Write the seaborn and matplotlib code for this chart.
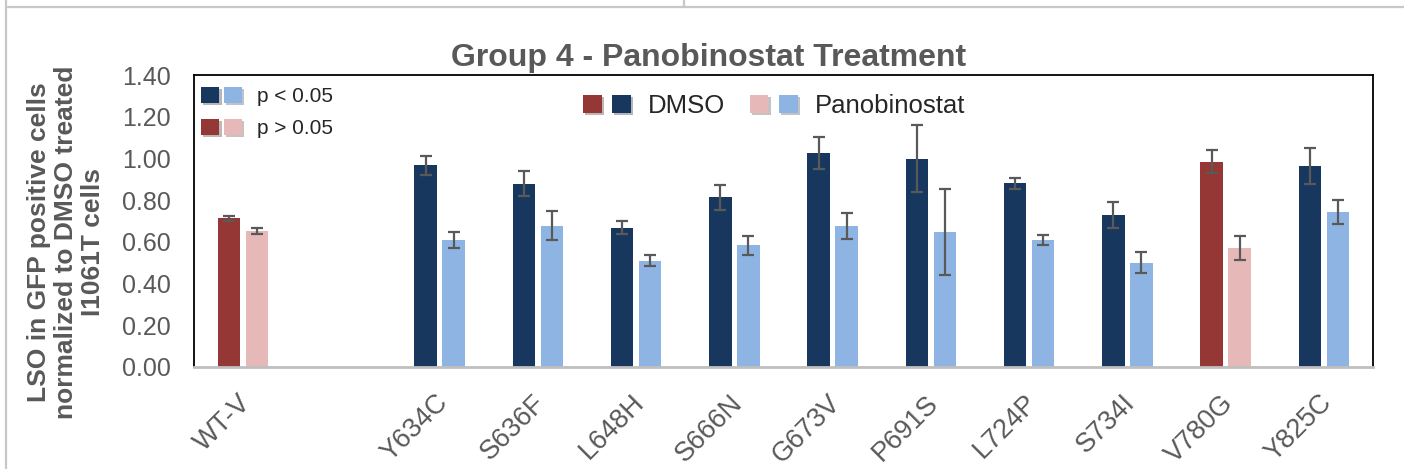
import numpy as np
import pandas as pd
import matplotlib
matplotlib.use("Agg")
import matplotlib.pyplot as plt
import matplotlib.patheffects as pe
import matplotlib.transforms as mtransforms
from matplotlib.patches import Patch
from matplotlib.lines import Line2D
from matplotlib.legend_handler import HandlerTuple
from matplotlib.ticker import FormatStrFormatter
import seaborn as sns

# ---- data -------------------------------------------------------------
categories = ["WT-V", "Y634C", "S636F", "L648H", "S666N", "G673V",
              "P691S", "L724P", "S734I", "V780G", "Y825C"]
# an empty slot separates the wild-type control from the mutants
axis_order = ["WT-V", "", "Y634C", "S636F", "L648H", "S666N", "G673V",
              "P691S", "L724P", "S734I", "V780G", "Y825C"]
treatments = ["DMSO", "Panobinostat"]

dmso_mean = [0.713, 0.967, 0.879, 0.668, 0.814, 1.027, 0.998, 0.880, 0.728, 0.985, 0.964]
dmso_err = [0.012, 0.047, 0.060, 0.030, 0.061, 0.077, 0.161, 0.028, 0.061, 0.055, 0.085]
pano_mean = [0.652, 0.608, 0.677, 0.509, 0.583, 0.675, 0.647, 0.608, 0.501, 0.570, 0.742]
pano_err = [0.015, 0.039, 0.069, 0.026, 0.044, 0.062, 0.205, 0.025, 0.048, 0.056, 0.057]
significant = [False, True, True, True, True, True, True, True, True, False, True]

y_ticks = [0.0, 0.2, 0.4, 0.6, 0.8, 1.0, 1.2, 1.4]

# ---- colours ----------------------------------------------------------
NAVY = "#17375E"
LIGHT_BLUE = "#8EB4E3"
DARK_RED = "#953735"
PINK = "#E6B9B8"
TEXT_GREY = "#595959"

sns.set_style("white")
plt.rcParams["font.family"] = ["Liberation Sans", "DejaVu Sans"]

df = pd.DataFrame({
    "mutant": categories * 2,
    "treatment": [treatments[0]] * len(categories) + [treatments[1]] * len(categories),
    "lso": dmso_mean + pano_mean,
})
err_lookup = {
    treatments[0]: dict(zip(categories, dmso_err)),
    treatments[1]: dict(zip(categories, pano_err)),
}
sig_lookup = dict(zip(categories, significant))
shade = {
    (treatments[0], True): NAVY, (treatments[1], True): LIGHT_BLUE,
    (treatments[0], False): DARK_RED, (treatments[1], False): PINK,
}

W, H = 1404, 469
fig = plt.figure(figsize=(W / 100, H / 100), dpi=100)
ax = fig.add_axes([194 / W, 1 - 367 / H, (1373 - 194) / W, (367 - 75) / H])

sns.barplot(data=df, x="mutant", y="lso", hue="treatment",
            order=axis_order, hue_order=treatments,
            palette=[NAVY, LIGHT_BLUE], saturation=1,
            width=0.57, gap=0.2, errorbar=None, legend=False,
            linewidth=0, ax=ax)

# colour each bar by significance and add its error bar
for container, treatment in zip(ax.containers, treatments):
    for bar in container:
        cx = bar.get_x() + bar.get_width() / 2
        name = axis_order[int(round(cx))]
        bar.set_facecolor(shade[(treatment, sig_lookup[name])])
        ax.errorbar(cx, bar.get_height(), yerr=err_lookup[treatment][name],
                    fmt="none", ecolor=TEXT_GREY, elinewidth=1.6,
                    capsize=4.5, capthick=1.6, zorder=5)

# ---- axes styling ------------------------------------------------------
ax.set_xlim(-0.5, len(axis_order) - 0.5)
ax.set_ylim(0, 1.4)
ax.set_yticks(y_ticks)
ax.yaxis.set_major_formatter(FormatStrFormatter("%.2f"))
ax.tick_params(axis="y", length=0, pad=17, labelsize=18, labelcolor=TEXT_GREY)
ax.tick_params(axis="x", length=0, pad=23, labelsize=19.5, labelcolor=TEXT_GREY)
label_shift = mtransforms.ScaledTranslation(0.04, 0, fig.dpi_scale_trans)
for lbl in ax.get_xticklabels():
    lbl.set_rotation(45)
    lbl.set_ha("right")
    lbl.set_va("center")
    lbl.set_rotation_mode("anchor")
    lbl.set_transform(lbl.get_transform() + label_shift)
ax.set_xlabel("")

for side in ("left", "top", "right"):
    ax.spines[side].set_color("#000000")
    ax.spines[side].set_linewidth(1.3)
ax.spines["bottom"].set_color("#BFBFBF")
ax.spines["bottom"].set_linewidth(2)

ax.set_ylabel("LSO in GFP positive cells\nnormalized to DMSO treated\nI1061T cells",
              fontsize=19, fontweight="bold", color=TEXT_GREY, linespacing=1.15)
ax.yaxis.set_label_coords((105 - 194) / 1179, (367 - 242) / 292)

fig.text(709 / W, 1 - 66 / H, "Group 4 - Panobinostat Treatment",
         ha="center", va="baseline", fontsize=23, fontweight="bold",
         color=TEXT_GREY)


# ---- legends -----------------------------------------------------------
def swatch(color):
    return Patch(facecolor=color, edgecolor="none",
                 path_effects=[pe.SimplePatchShadow(offset=(1.5, -1.5), alpha=0.3),
                               pe.Normal()])


leg_sig = ax.legend(
    handles=[(swatch(NAVY), swatch(LIGHT_BLUE)), (swatch(DARK_RED), swatch(PINK))],
    labels=["p < 0.05", "p > 0.05"],
    handler_map={tuple: HandlerTuple(ndivide=None, pad=0.2)},
    loc="upper left", bbox_to_anchor=(201 / W, 1 - 87 / H),
    bbox_transform=fig.transFigure, frameon=False, fontsize=15,
    handlelength=1.97, handleheight=0.82, handletextpad=0.72,
    labelspacing=0.6, borderpad=0, borderaxespad=0)
ax.add_artist(leg_sig)

ax.legend(
    handles=[(swatch(DARK_RED), swatch(NAVY)), (swatch(PINK), swatch(LIGHT_BLUE))],
    labels=treatments,
    handler_map={tuple: HandlerTuple(ndivide=None, pad=0.42)},
    loc="upper left", bbox_to_anchor=(583 / W, 1 - 94 / H),
    bbox_transform=fig.transFigure, frameon=False, fontsize=18.5, ncol=2,
    handlelength=1.86, handleheight=0.68, handletextpad=0.68,
    columnspacing=0.95, borderpad=0, borderaxespad=0)

# ---- surrounding frame lines ------------------------------------------
frame_kw = dict(transform=fig.transFigure, color="#C8C8C8", lw=1.6)
fig.add_artist(Line2D([5.5 / W, 1], [1 - 7.5 / H] * 2, **frame_kw))
fig.add_artist(Line2D([5.5 / W] * 2, [0, 1], **frame_kw))
fig.add_artist(Line2D([683.5 / W] * 2, [1 - 7.5 / H, 1], **frame_kw))

fig.savefig("out.png", dpi=100)
